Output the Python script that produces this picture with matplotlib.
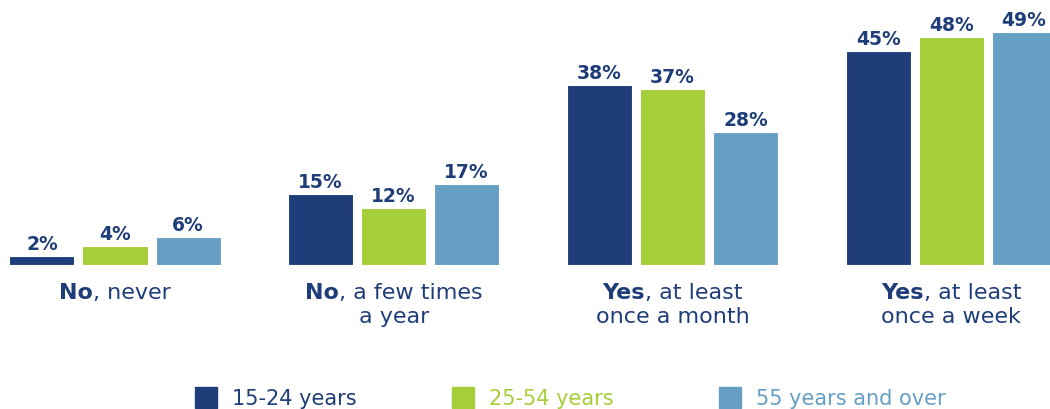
import matplotlib
matplotlib.use("Agg")
import matplotlib.pyplot as plt
from matplotlib.patches import Rectangle

# Survey data
categories_bold = ["No", "No", "Yes", "Yes"]
categories_rest = [", never", ", a few times", ", at least", ", at least"]
categories_line2 = ["", "a year", "once a month", "once a week"]
series_names = ["15-24 years", "25-54 years", "55 years and over"]
age_15_24 = [2, 15, 38, 45]
age_25_54 = [4, 12, 37, 48]
age_55_over = [6, 17, 28, 49]

colors = ["#1F3D78", "#A6CE39", "#669FC4"]
label_color = "#1F3D78"
FONT = "DejaVu Sans"

W, H, DPI = 1050, 409, 100
fig = plt.figure(figsize=(W / DPI, H / DPI), dpi=DPI)

# Axes region in pixels: baseline at y=265 from top
group_px0, group_pitch = 115.0, 278.7
ax = fig.add_axes([0, (H - 265) / H, 1, 265 / H])
ax.set_xlim((0 - group_px0) / group_pitch, (W - group_px0) / group_pitch)
ax.set_ylim(0, 265 / 4.75)
ax.axis("off")

bar_step = 73 / group_pitch
bar_w = 65 / group_pitch
series = [age_15_24, age_25_54, age_55_over]
for s, (vals, col) in enumerate(zip(series, colors)):
    for i, v in enumerate(vals):
        x = i + (s - 1) * bar_step
        ax.bar(x, v, width=bar_w, color=col, edgecolor="white", linewidth=0.8)
        ax.annotate(f"{v}%", (x, v), xytext=(0, 4.3), textcoords="offset points",
                    ha="center", va="baseline", fontsize=13.5,
                    fontweight="bold", color=label_color, family=FONT,
                    annotation_clip=False)

# Category labels with a bold leading word
fig.canvas.draw()
renderer = fig.canvas.get_renderer()
cat_size = 16
line1_y = 1 - 299 / H
line2_y = 1 - 323 / H
for i in range(len(categories_bold)):
    cx = (group_px0 + i * group_pitch) / W
    t1 = fig.text(0, line1_y, categories_bold[i], fontsize=cat_size,
                  fontweight="bold", color=label_color, family=FONT,
                  ha="left", va="baseline")
    t2 = fig.text(0, line1_y, categories_rest[i], fontsize=cat_size,
                  color=label_color, family=FONT, ha="left", va="baseline")
    w1 = t1.get_window_extent(renderer).width
    w2 = t2.get_window_extent(renderer).width
    left_px = cx * W - (w1 + w2) / 2
    t1.set_x(left_px / W)
    t2.set_x((left_px + w1) / W)
    if categories_line2[i]:
        fig.text(cx, line2_y, categories_line2[i], fontsize=cat_size,
                 color=label_color, family=FONT, ha="center", va="baseline")

# Legend
legend_x = [195, 452, 719]
for name, col, lx in zip(series_names, colors, legend_x):
    fig.patches.append(Rectangle((lx / W, (H - 408) / H), 22 / W, 21 / H,
                                 transform=fig.transFigure, color=col))
    fig.text((lx + 37) / W, 1 - 405 / H, name, fontsize=15, color=col,
             family=FONT, ha="left", va="baseline")

fig.savefig("out.png", dpi=DPI)
